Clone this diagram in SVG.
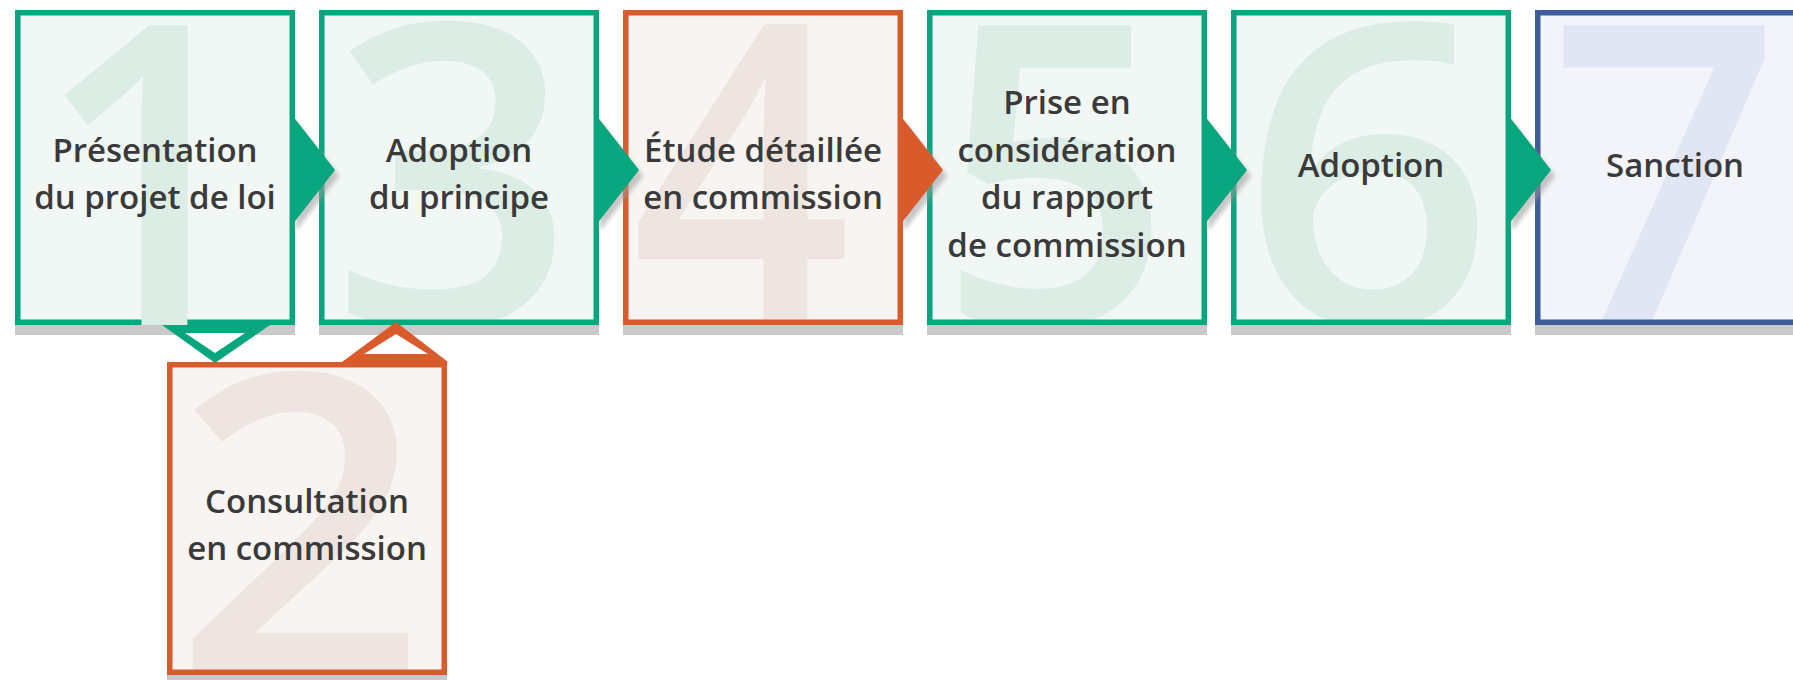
<svg xmlns="http://www.w3.org/2000/svg" width="1793" height="680" viewBox="0 0 1793 680">
  <defs>
    <style>
      .lbl { font-family: "Open Sans", "Noto Sans", sans-serif; font-weight: 600; font-size: 33px; fill: #3a3a3a; text-anchor: middle; }
      .dig { font-family: "Open Sans", "Noto Sans", sans-serif; font-weight: 600; font-size: 420px; text-anchor: middle; }
      .shadow { fill: #c9c9c9; }
      .frame { fill: none; stroke-width: 5.5; }
      .green .bg { fill: #f1f7f4; }
      .green .dig { fill: #dcede5; }
      .green .frame { stroke: #08a67e; }
      .orange .bg { fill: #f7f4f2; }
      .orange .dig { fill: #eee5e1; }
      .orange .frame { stroke: #d95b2c; }
      .blue .bg { fill: #f2f4f9; }
      .blue .dig { fill: #e0e6f3; }
      .blue .frame { stroke: #3e5b9a; }
      .arr-g { fill: #08a67e; }
      .arr-o { fill: #d95b2c; }
      .arr-shadow { fill: #9a9a9a; opacity: 0.55; filter: url(#soft); }
    </style>
    <filter id="soft" x="-20%" y="-20%" width="140%" height="140%">
      <feGaussianBlur stdDeviation="2"/>
    </filter>
    <clipPath id="clip1"><rect x="15" y="10" width="280" height="315"/></clipPath>
    <clipPath id="clip2"><rect x="167" y="362" width="280" height="313"/></clipPath>
    <clipPath id="clip3"><rect x="319" y="10" width="280" height="315"/></clipPath>
    <clipPath id="clip4"><rect x="623" y="10" width="280" height="315"/></clipPath>
    <clipPath id="clip5"><rect x="927" y="10" width="280" height="315"/></clipPath>
    <clipPath id="clip6"><rect x="1231" y="10" width="280" height="315"/></clipPath>
    <clipPath id="clip7"><rect x="1535" y="10" width="280" height="315"/></clipPath>
  </defs>

  <rect width="1793" height="680" fill="#ffffff"/>

  <!-- Step 1 -->
  <g id="step-1" class="green">
    <rect class="shadow" x="15" y="325" width="280" height="10"/>
    <rect class="bg" x="15" y="10" width="280" height="315"/>
    <rect class="frame" x="17.75" y="12.75" width="274.5" height="309.5"/>
    <!-- the numeral's stem runs over the bottom frame here -->
    <g clip-path="url(#clip1)"><text class="dig" transform="translate(149 325) scale(0.95 1)">1</text></g>
    <text class="lbl" x="155" y="162">Présentation</text>
    <text class="lbl" x="155" y="209">du projet de loi</text>
  </g>

  <!-- Step 3 -->
  <g id="step-3" class="green">
    <rect class="shadow" x="319" y="325" width="280" height="10"/>
    <rect class="bg" x="319" y="10" width="280" height="315"/>
    <g clip-path="url(#clip3)"><text class="dig" transform="translate(453 325) scale(1.02 1)">3</text></g>
    <rect class="frame" x="321.75" y="12.75" width="274.5" height="309.5"/>
    <text class="lbl" x="459" y="162">Adoption</text>
    <text class="lbl" x="459" y="209">du principe</text>
  </g>

  <!-- Step 4 -->
  <g id="step-4" class="orange">
    <rect class="shadow" x="623" y="325" width="280" height="10"/>
    <rect class="bg" x="623" y="10" width="280" height="315"/>
    <g clip-path="url(#clip4)"><text class="dig" transform="translate(741 325) scale(0.92 1)">4</text></g>
    <rect class="frame" x="625.75" y="12.75" width="274.5" height="309.5"/>
    <text class="lbl" x="763" y="162">Étude détaillée</text>
    <text class="lbl" x="763" y="209">en commission</text>
  </g>

  <!-- Step 5 -->
  <g id="step-5" class="green">
    <rect class="shadow" x="927" y="325" width="280" height="10"/>
    <rect class="bg" x="927" y="10" width="280" height="315"/>
    <g clip-path="url(#clip5)"><text class="dig" transform="translate(1055 325) scale(0.98 1)">5</text></g>
    <rect class="frame" x="929.75" y="12.75" width="274.5" height="309.5"/>
    <text class="lbl" x="1067" y="114">Prise en</text>
    <text class="lbl" x="1067" y="162">considération</text>
    <text class="lbl" x="1067" y="209">du rapport</text>
    <text class="lbl" x="1067" y="257">de commission</text>
  </g>

  <!-- Step 6 -->
  <g id="step-6" class="green">
    <rect class="shadow" x="1231" y="325" width="280" height="10"/>
    <rect class="bg" x="1231" y="10" width="280" height="315"/>
    <g clip-path="url(#clip6)"><text class="dig" transform="translate(1368 325) scale(1.06 1)">6</text></g>
    <rect class="frame" x="1233.75" y="12.75" width="274.5" height="309.5"/>
    <text class="lbl" x="1371" y="177">Adoption</text>
  </g>

  <!-- Step 7 -->
  <g id="step-7" class="blue">
    <rect class="shadow" x="1535" y="325" width="280" height="10"/>
    <rect class="bg" x="1535" y="10" width="280" height="315"/>
    <g clip-path="url(#clip7)"><text class="dig" transform="translate(1665 325) scale(0.97 1)">7</text></g>
    <rect class="frame" x="1537.75" y="12.75" width="274.5" height="309.5"/>
    <text class="lbl" x="1675" y="177">Sanction</text>
  </g>

  <!-- Step 2 -->
  <g id="step-2" class="orange">
    <rect class="shadow" x="167" y="675" width="280" height="10"/>
    <rect class="bg" x="167" y="362" width="280" height="313"/>
    <g clip-path="url(#clip2)"><text class="dig" transform="translate(300 675) scale(1.06 1)">2</text></g>
    <rect class="frame" x="169.75" y="364.75" width="274.5" height="307.5"/>
    <text class="lbl" x="307" y="513">Consultation</text>
    <text class="lbl" x="307" y="560">en commission</text>
  </g>

  <!-- Connectors -->
  <g id="connectors">
    <polygon class="arr-shadow" points="296,121 339,176 296,231"/>
    <polygon class="arr-g" points="292,115 335,170 292,225"/>
    <polygon class="arr-shadow" points="600,121 643,176 600,231"/>
    <polygon class="arr-g" points="596,115 639,170 596,225"/>
    <polygon class="arr-shadow" points="904,121 947,176 904,231"/>
    <polygon class="arr-o" points="900,115 943,170 900,225"/>
    <polygon class="arr-shadow" points="1208,121 1251,176 1208,231"/>
    <polygon class="arr-g" points="1204,115 1247,170 1204,225"/>
    <polygon class="arr-shadow" points="1512,121 1555,176 1512,231"/>
    <polygon class="arr-g" points="1508,115 1551,170 1508,225"/>

    <!-- step 1 down to step 2 -->
    <polygon class="arr-g" points="162,325 270,325 215,363"/>
    <polygon fill="#ffffff" points="185,333 245,333 215,353"/>
    <!-- step 2 back up to step 3 -->
    <polygon class="arr-o" points="396,322 342,362 448,362"/>
    <polygon fill="#ffffff" points="396,334 364,354 428,354"/>
  </g>
</svg>
